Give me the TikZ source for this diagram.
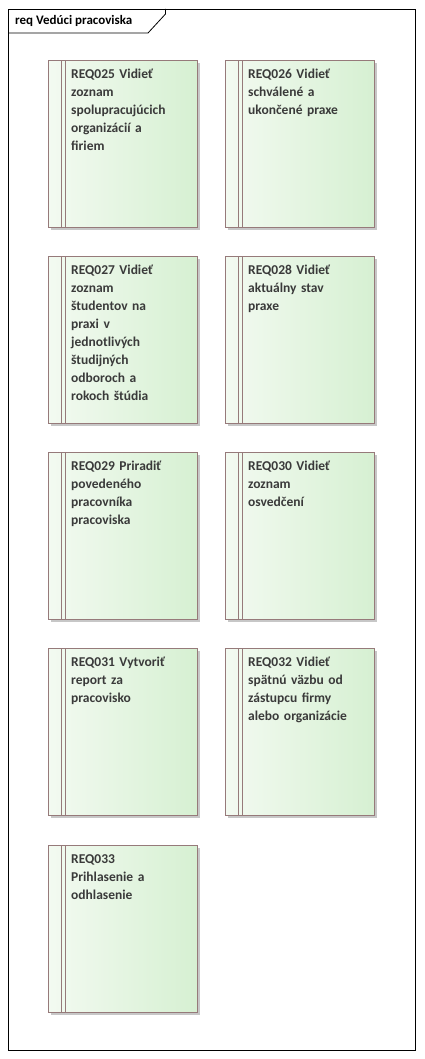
\documentclass[tikz,border=0pt]{standalone}
\usepackage{fontspec}
\setmainfont{Carlito}
\usetikzlibrary{shadows}
\definecolor{reqleft}{RGB}{243,250,241}
\definecolor{reqright}{RGB}{214,240,210}
\definecolor{reqborder}{RGB}{150,122,122}
\definecolor{reqtext}{RGB}{58,58,58}

\begin{document}
\begin{tikzpicture}[x=1pt, y=-1pt,
	reqbox/.style={draw=reqborder, line width=0.8pt, left color=reqleft, right color=reqright,
		minimum width=149pt, minimum height=167pt, anchor=north west, inner sep=0pt,
		drop shadow={shadow xshift=3pt, shadow yshift=-3pt, fill=black!22, opacity=1},
		path picture={\draw[reqborder, line width=0.8pt]
			([xshift=13pt]path picture bounding box.north west) -- ([xshift=13pt]path picture bounding box.south west)
			([xshift=17pt]path picture bounding box.north west) -- ([xshift=17pt]path picture bounding box.south west);}},
	reqlabel/.style={anchor=north west, inner sep=0pt, text width=125pt, align=left, text=reqtext,
		font=\bfseries\fontsize{13.5}{18}\selectfont}]

				\useasboundingbox (0,0) rectangle (424,1059);

				% frame and tab
				\draw[line width=0.8pt] (8,9) rectangle (415,1050);
				\draw[line width=0.8pt] (8,33) -- (148,33) -- (165.5,14) -- (165.5,9);
				\node[anchor=base west, inner sep=0pt, font=\bfseries\fontsize{13}{16}\selectfont] (title) at (15,25) {req Vedúci pracoviska};

				% requirements
				\node[reqbox] (req25) at (48,60) {};
				\node[reqbox] (req26) at (225,60) {};
				\node[reqbox] (req27) at (48,256) {};
				\node[reqbox] (req28) at (225,256) {};
				\node[reqbox] (req29) at (48,452) {};
				\node[reqbox] (req30) at (225,452) {};
				\node[reqbox] (req31) at (48,648) {};
				\node[reqbox] (req32) at (225,648) {};
				\node[reqbox] (req33) at (48,845) {};

				\node[reqlabel] (lab25) at ([xshift=23pt, yshift=-5.9pt]req25.north west) {\strut REQ025 Vidieť\\zoznam\\spolupracujúcich\\organizácií a\\firiem};
				\node[reqlabel] (lab26) at ([xshift=23pt, yshift=-5.9pt]req26.north west) {\strut REQ026 Vidieť\\schválené a\\ukončené praxe};
				\node[reqlabel] (lab27) at ([xshift=23pt, yshift=-5.9pt]req27.north west) {\strut REQ027 Vidieť\\zoznam\\študentov na\\praxi v\\jednotlivých\\študijných\\odboroch a\\rokoch štúdia};
				\node[reqlabel] (lab28) at ([xshift=23pt, yshift=-5.9pt]req28.north west) {\strut REQ028 Vidieť\\aktuálny stav\\praxe};
				\node[reqlabel] (lab29) at ([xshift=23pt, yshift=-5.9pt]req29.north west) {\strut REQ029 Priradiť\\povedeného\\pracovníka\\pracoviska};
				\node[reqlabel] (lab30) at ([xshift=23pt, yshift=-5.9pt]req30.north west) {\strut REQ030 Vidieť\\zoznam\\osvedčení};
				\node[reqlabel] (lab31) at ([xshift=23pt, yshift=-5.9pt]req31.north west) {\strut REQ031 Vytvoriť\\report za\\pracovisko};
				\node[reqlabel] (lab32) at ([xshift=23pt, yshift=-5.9pt]req32.north west) {\strut REQ032 Vidieť\\spätnú väzbu od\\zástupcu firmy\\alebo organizácie};
				\node[reqlabel] (lab33) at ([xshift=23pt, yshift=-5.9pt]req33.north west) {\strut REQ033\\Prihlasenie a\\odhlasenie};

\end{tikzpicture}
\end{document}
